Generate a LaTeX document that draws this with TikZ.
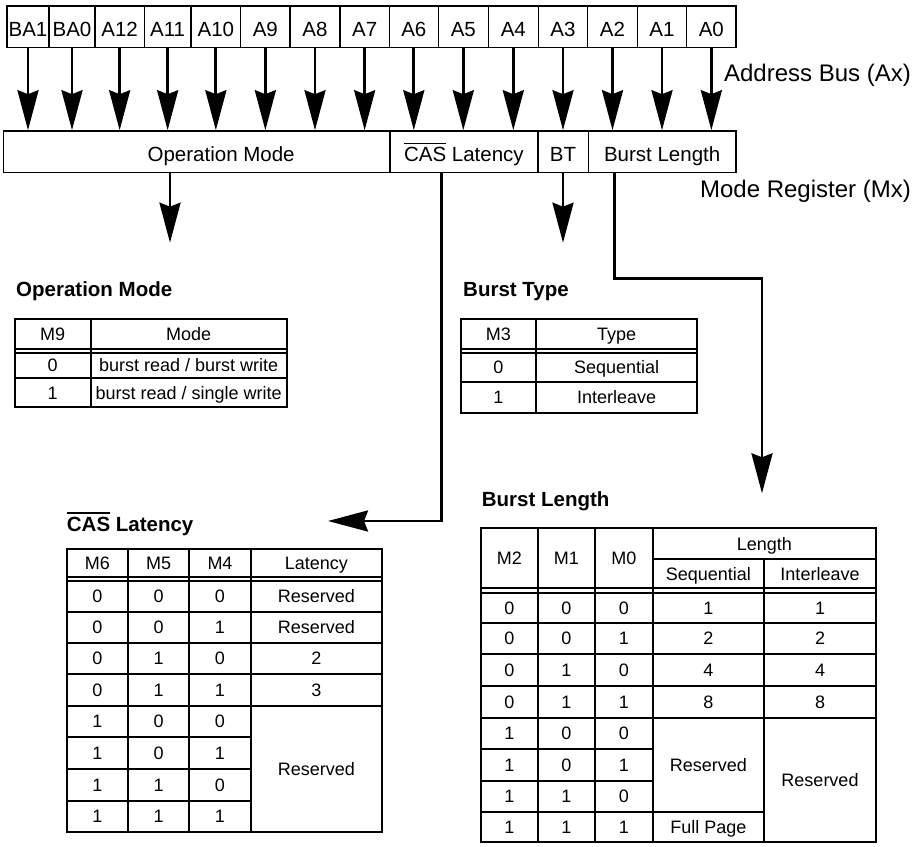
\documentclass[tikz,border=0pt]{standalone}
\usepackage{fontspec}
\setmainfont{Liberation Sans}
\usetikzlibrary{arrows.meta}
\newcommand\fsz[1]{\fontsize{#1}{#1}\selectfont}
\newcommand\ovl[1]{\setbox0=\hbox{#1}\rlap{\rule[\dimexpr\ht0+0.15em\relax]{\wd0}{0.07em}}\box0\relax}
\tikzset{
 abox/.style={draw, line width=1.5pt, inner sep=0pt, minimum height=41.7pt, font=\fsz{20.5}, text height=19.3pt, text depth=0pt},
 rbox/.style={draw, line width=1.6pt, inner sep=0pt, minimum height=41.3pt, font=\fsz{20.5}, text height=19.7pt, text depth=0pt},
 bigarr/.style={line width=2.8pt, -{Stealth[length=40pt,width=21pt,inset=4pt]}},
 tline/.style={line width=1.7pt},
 cell/.style={inner sep=0pt, font=\fsz{18}, text height=12.9pt, text depth=0pt},
 ttl/.style={inner sep=0pt, font=\bfseries\fsz{20.5}, anchor=base west},
 lbl/.style={inner sep=0pt, font=\fsz{24}, anchor=east, text height=17.2pt, text depth=0pt}
}
\begin{document}
\begin{tikzpicture}[x=1pt,y=-1pt]
\useasboundingbox (0,0) rectangle (918,846);
% address bus
\foreach \n/\t/\l/\r in {ba1/BA1/7/49, ba0/BA0/49/95, a12/A12/95/144.3, a11/A11/144.3/191, a10/A10/191/240.7, a9/A9/240.7/290, a8/A8/290/340, a7/A7/340/389.3, a6/A6/389.3/438.3, a5/A5/438.3/488.3, a4/A4/488.3/538.3, a3/A3/538.3/587.7, a2/A2/587.7/637.3, a1/A1/637.3/686.7, a0/A0/686.7/736}{
  \node[abox, minimum width={(\r-\l)*1pt}] (\n) at ({(\l+\r)/2},26.85) {\t};
}
% mode register
\node[rbox, minimum width=386.7pt] (om) at (196.65,151.65) {\hspace*{49pt}Operation Mode};
\node[rbox, minimum width=147.7pt] (cas) at (463.85,151.65) {\ovl{CAS} Latency};
\node[rbox, minimum width=50.6pt] (bt) at (563,151.65) {BT};
\node[rbox, minimum width=147.7pt] (bl) at (662.15,151.65) {Burst Length};
\foreach \n in {ba1,ba0,a12,a11,a10,a9,a8,a7,a6,a5,a4,a3,a2,a1,a0}{
  \draw[bigarr] (\n.south) -- (\n.south |- om.north);
}
\node[lbl] (abus) at (911,72.5) {Address Bus (Ax)};
\node[lbl] (mreg) at (911,189) {Mode Register (Mx)};
% outgoing connectors
\coordinate (p1) at (170,242.7);
\coordinate (p2) at (563,242.7);
\coordinate (c1) at (441.7,521);
\coordinate (c2) at (328,521);
\coordinate (b1) at (614.3,278.3);
\coordinate (b2) at (762,278.3);
\coordinate (b3) at (762,493.3);
\draw[bigarr] (p1 |- om.south) -- (p1);
\draw[bigarr] (bt.south) -- (p2);
\draw[bigarr] (c1 |- cas.south) -- (c1) -- (c2);
\draw[bigarr] (b1 |- bl.south) -- (b1) -- (b2) -- (b3);
% titles
\node[ttl] (t1) at (16,296.7) {Operation Mode};
\node[ttl] (t2) at (463,296.7) {Burst Type};
\node[ttl] (t3) at (66.7,531) {\ovl{CAS} Latency};
\node[ttl] (t4) at (481.7,506.7) {Burst Length};
% operation mode table
\draw[tline] (14.7,319.3) rectangle (286.7,407.3);
\draw[tline] (14.7,349) -- (286.7,349) (14.7,352.7) -- (286.7,352.7) (14.7,378.3) -- (286.7,378.3) (90.7,319.3) -- (90.7,407.3);
\node[cell] (o11) at (52.7,334.2) {M9};
\node[cell] (o12) at (188.7,334.2) {Mode};
\node[cell] (o21) at (52.7,365.5) {0};
\node[cell] (o22) at (188.7,365.5) {burst read / burst write};
\node[cell] (o31) at (52.7,392.8) {1};
\node[cell] (o32) at (188.7,392.8) {burst read / single write};
% burst type table
\draw[tline] (460.7,319.3) rectangle (697.3,412.7);
\draw[tline] (460.7,349) -- (697.3,349) (460.7,352.7) -- (697.3,352.7) (460.7,381.7) -- (697.3,381.7) (536,319.3) -- (536,412.7);
\node[cell] (y11) at (498.35,334.2) {M3};
\node[cell] (y12) at (616.6,334.2) {Type};
\node[cell] (y21) at (498.35,367.2) {0};
\node[cell] (y22) at (616.6,367.2) {Sequential};
\node[cell] (y31) at (498.35,397.2) {1};
\node[cell] (y32) at (616.6,397.2) {Interleave};
% CAS latency table
\draw[tline] (66.7,549) rectangle (381.7,831.7);
\foreach \y in {576.7,580.7,611.7,642.7,674,705.7}{\draw[tline] (66.7,\y) -- (381.7,\y);}
\foreach \y in {737.3,769,801}{\draw[tline] (66.7,\y) -- (251,\y);}
\foreach \x in {128.3,189,251}{\draw[tline] (\x,549) -- (\x,831.7);}
\node[cell] (ch1) at (97.5,562.85) {M6};
\node[cell] (ch2) at (158.65,562.85) {M5};
\node[cell] (ch3) at (220,562.85) {M4};
\node[cell] (ch4) at (316.35,562.85) {Latency};
\foreach \i/\y/\a/\b/\c in {1/596.2/0/0/0, 2/627.2/0/0/1, 3/658.35/0/1/0, 4/689.85/0/1/1, 5/721.5/1/0/0, 6/753.15/1/0/1, 7/785/1/1/0, 8/816.35/1/1/1}{
  \node[cell] (ca\i) at (97.5,\y) {\a};
  \node[cell] (cb\i) at (158.65,\y) {\b};
  \node[cell] (cc\i) at (220,\y) {\c};
}
\node[cell] (cl1) at (316.35,596.2) {Reserved};
\node[cell] (cl2) at (316.35,627.2) {Reserved};
\node[cell] (cl3) at (316.35,658.35) {2};
\node[cell] (cl4) at (316.35,689.85) {3};
\node[cell] (cl5) at (316.35,768.7) {Reserved};
% burst length table
\draw[tline] (481,528.3) rectangle (876,842.3);
\draw[tline] (652.7,559.3) -- (876,559.3);
\foreach \y in {588.3,593.3,622.7,654.3,685.7,717.7}{\draw[tline] (481,\y) -- (876,\y);}
\foreach \y in {748.7,780.7}{\draw[tline] (481,\y) -- (652.7,\y);}
\draw[tline] (481,812.3) -- (764,812.3);
\foreach \x in {537.7,595,652.7}{\draw[tline] (\x,528.3) -- (\x,842.3);}
\draw[tline] (764,559.3) -- (764,842.3);
\node[cell] (bh1) at (509.35,558.3) {M2};
\node[cell] (bh2) at (566.35,558.3) {M1};
\node[cell] (bh3) at (623.85,558.3) {M0};
\node[cell] (bh4) at (764.35,543.8) {Length};
\node[cell] (bh5) at (708.35,573.8) {Sequential};
\node[cell] (bh6) at (820,573.8) {Interleave};
\foreach \i/\y/\a/\b/\c in {1/608/0/0/0, 2/638.5/0/0/1, 3/670/0/1/0, 4/701.7/0/1/1, 5/733.2/1/0/0, 6/764.7/1/0/1, 7/796.5/1/1/0, 8/827.3/1/1/1}{
  \node[cell] (ba\i) at (509.35,\y) {\a};
  \node[cell] (bb\i) at (566.35,\y) {\b};
  \node[cell] (bc\i) at (623.85,\y) {\c};
}
\foreach \i/\y/\v in {1/608/1, 2/638.5/2, 3/670/4, 4/701.7/8}{
  \node[cell] (bs\i) at (708.35,\y) {\v};
  \node[cell] (bi\i) at (820,\y) {\v};
}
\node[cell] (bs5) at (708.35,765) {Reserved};
\node[cell] (bs8) at (708.35,827.3) {Full Page};
\node[cell] (bi5) at (820,780) {Reserved};
\end{tikzpicture}
\end{document}
